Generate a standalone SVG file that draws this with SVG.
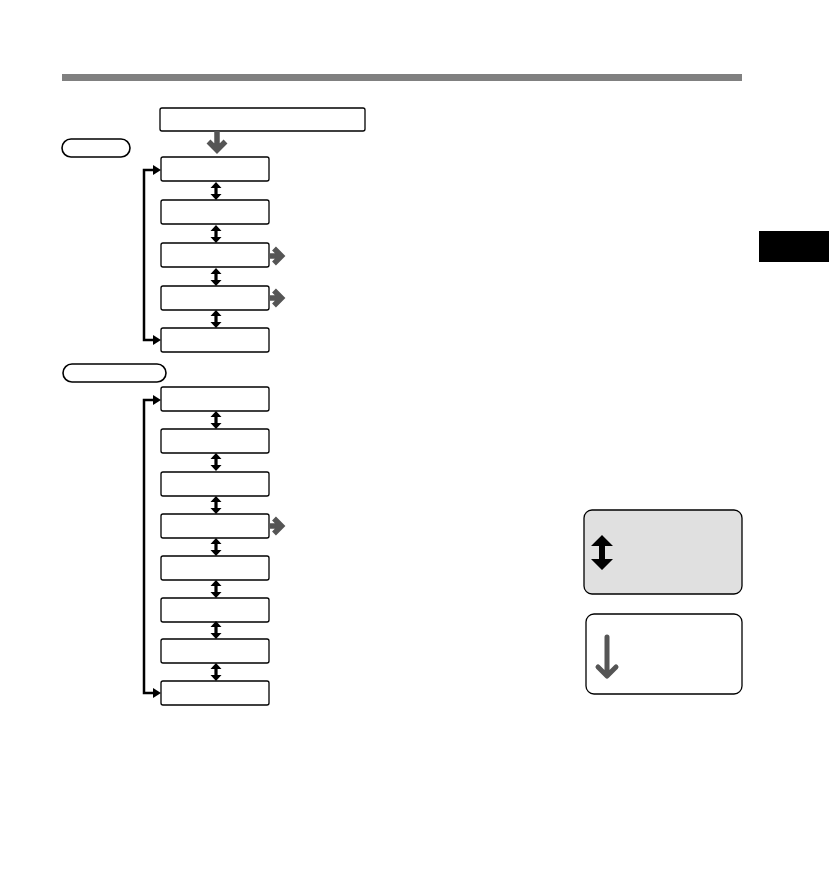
<svg xmlns="http://www.w3.org/2000/svg" width="829" height="885" viewBox="0 0 829 885">
<style>
.box{fill:#fff;stroke:#000;stroke-width:1.3}
.pill{fill:#fff;stroke:#000;stroke-width:1.6}
.loop{fill:none;stroke:#000;stroke-width:2.5}
.gs{fill:none;stroke:#555;stroke-width:5.5;stroke-linejoin:miter;stroke-miterlimit:2}
.dbl{fill:#000}
</style>
<defs>
<path id="dbl" d="M0,0 L5.5,6 L1.6,6 L1.6,12 L5.5,12 L0,18 L-5.5,12 L-1.6,12 L-1.6,6 L-5.5,6 Z"/>
<path id="rgt" d="M0,0 H10 M4,-7.5 L11.5,0 L4,7.5"/>
<path id="lh" d="M0,-5 L8,0 L0,5 Z"/>
</defs>
<rect x="0" y="0" width="829" height="885" fill="#fff"/>
<rect x="62" y="74" width="680" height="7" fill="#808080"/>
<rect x="759" y="231" width="70" height="31" fill="#000"/>

<g id="top"><rect class="box" x="160" y="108" width="205" height="23" rx="2"/></g>
<g id="pill1"><rect class="pill" x="62" y="139" width="68" height="18" rx="9"/></g>
<g id="pill2"><rect class="pill" x="63" y="364" width="103" height="18" rx="9"/></g>

<g id="a1"><rect class="box" x="161" y="157" width="108" height="24" rx="2"/></g>
<g id="a2"><rect class="box" x="161" y="200" width="108" height="24" rx="2"/></g>
<g id="a3"><rect class="box" x="161" y="243" width="108" height="24" rx="2"/></g>
<g id="a4"><rect class="box" x="161" y="286" width="108" height="24" rx="2"/></g>
<g id="a5"><rect class="box" x="161" y="328" width="108" height="24" rx="2"/></g>

<g id="b1"><rect class="box" x="161" y="387" width="108" height="24" rx="2"/></g>
<g id="b2"><rect class="box" x="161" y="429" width="108" height="24" rx="2"/></g>
<g id="b3"><rect class="box" x="161" y="472" width="108" height="24" rx="2"/></g>
<g id="b4"><rect class="box" x="161" y="514" width="108" height="24" rx="2"/></g>
<g id="b5"><rect class="box" x="161" y="556" width="108" height="24" rx="2"/></g>
<g id="b6"><rect class="box" x="161" y="598" width="108" height="24" rx="2"/></g>
<g id="b7"><rect class="box" x="161" y="639" width="108" height="24" rx="2"/></g>
<g id="b8"><rect class="box" x="161" y="681" width="108" height="24" rx="2"/></g>

<g id="legend1">
<rect x="584" y="510" width="158" height="84" rx="8" fill="#e0e0e0" stroke="#000" stroke-width="1.3"/>
<path class="dbl" d="M602,535 L613,546 L605,546 L605,559 L613,559 L602,570 L591,559 L599,559 L599,546 L591,546 Z"/>
</g>
<g id="legend2">
<rect x="586" y="614" width="156" height="80" rx="8" fill="#fff" stroke="#000" stroke-width="1.3"/>
<path d="M607,637 V675 M598,667 L607,676 L616,667" fill="none" stroke="#555" stroke-width="5" stroke-linecap="round" stroke-linejoin="round"/>
</g>

<g id="connectors">
<path class="gs" d="M217,131 V149 M208.5,141.5 L217,150 L225.5,141.5"/>
<use href="#dbl" x="216" y="182" class="dbl"/>
<use href="#dbl" x="216" y="225" class="dbl"/>
<use href="#dbl" x="216" y="268" class="dbl"/>
<use href="#dbl" x="216" y="310" class="dbl"/>
<use href="#rgt" x="270" y="256" class="gs"/>
<use href="#rgt" x="270" y="298" class="gs"/>
<path class="loop" d="M153,170 H144 V340 H153"/>
<use href="#lh" x="153" y="170"/>
<use href="#lh" x="153" y="340"/>

<use href="#dbl" x="216" y="411" class="dbl"/>
<use href="#dbl" x="216" y="453" class="dbl"/>
<use href="#dbl" x="216" y="496" class="dbl"/>
<use href="#dbl" x="216" y="538" class="dbl"/>
<use href="#dbl" x="216" y="580" class="dbl"/>
<use href="#dbl" x="216" y="621" class="dbl"/>
<use href="#dbl" x="216" y="663" class="dbl"/>
<use href="#rgt" x="270" y="526" class="gs"/>
<path class="loop" d="M153,400 H144 V693 H153"/>
<use href="#lh" x="153" y="400"/>
<use href="#lh" x="153" y="693"/>
</g>
</svg>
